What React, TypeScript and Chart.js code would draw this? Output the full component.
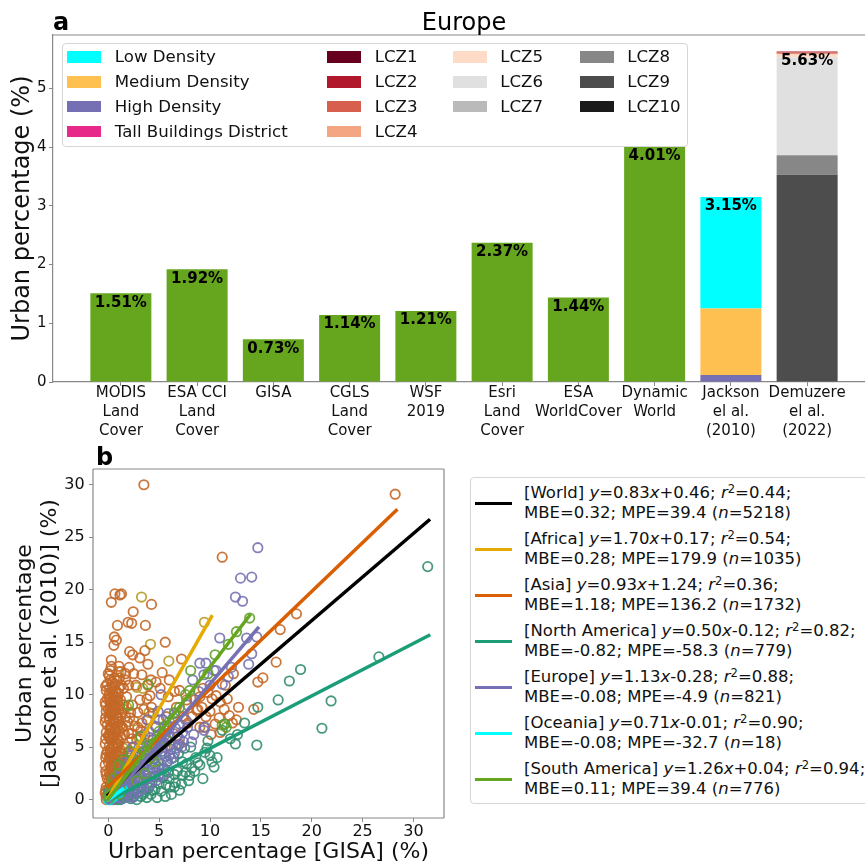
import React, { useEffect, useRef } from 'react';
import { Chart, registerables } from 'chart.js';

Chart.register(...registerables);

const FONT = '"DejaVu Sans", "Liberation Sans", sans-serif';
Chart.defaults.font.family = FONT;
Chart.defaults.color = '#111';

// ---------------- Panel a: Europe urban percentage ----------------
const productNames: string[][] = [
  ['MODIS', 'Land', 'Cover'],
  ['ESA CCI', 'Land', 'Cover'],
  ['GISA'],
  ['CGLS', 'Land', 'Cover'],
  ['WSF', '2019'],
  ['Esri', 'Land', 'Cover'],
  ['ESA', 'WorldCover'],
  ['Dynamic', 'World'],
  ['Jackson', 'el al.', '(2010)'],
  ['Demuzere', 'el al.', '(2022)'],
];
const productValues = [1.51, 1.92, 0.73, 1.14, 1.21, 2.37, 1.44, 4.01];
const jacksonClasses = ['Low Density', 'Medium Density', 'High Density', 'Tall Buildings District'];
const jacksonValues = [1.9, 1.13, 0.12, 0.0];
const lczClasses = ['LCZ1', 'LCZ2', 'LCZ3', 'LCZ4', 'LCZ5', 'LCZ6', 'LCZ7', 'LCZ8', 'LCZ9', 'LCZ10'];
const lczValues = [0.0, 0.02, 0.02, 0.01, 0.05, 1.67, 0.0, 0.33, 3.53, 0.0];
const yTicksA = [0, 1, 2, 3, 4, 5];

const productColor = '#66a61e';
const jacksonColors = ['#00ffff', '#fec151', '#7570b3', '#e7298a'];
const jacksonStackOrder = [2, 1, 0, 3];
const lczColors = ['#67001f', '#b2182b', '#d6604d', '#f4a582', '#fddbc7', '#e0e0e0', '#bababa', '#878787', '#4d4d4d', '#1a1a1a'];

// ---------------- Panel b: GISA vs Jackson ----------------
const regionNames = ['World', 'Africa', 'Asia', 'North America', 'Europe', 'Oceania', 'South America'];
const slopes = [0.83, 1.7, 0.93, 0.5, 1.13, 0.71, 1.26];
const intercepts = [0.46, 0.17, 1.24, -0.12, -0.28, -0.01, 0.04];
const r2Values = [0.44, 0.54, 0.36, 0.82, 0.88, 0.9, 0.94];
const mbeValues = [0.32, 0.28, 1.18, -0.82, -0.08, -0.08, 0.11];
const mpeValues = [39.4, 179.9, 136.2, -58.3, -4.9, -32.7, 39.4];
const nValues = [5218, 1035, 1732, 779, 821, 18, 776];
const lineXStart = [0, 0, 0, 0, 0, 0, 0];
const lineXEnd = [31.5, 10.15, 28.3, 31.5, 14.7, 1.4, 13.9];
const xTicksB = [0, 5, 10, 15, 20, 25, 30];
const yTicksB = [0, 5, 10, 15, 20, 25, 30];

const lineColors = ['#000000', '#e6ab02', '#d95f02', '#1b9e77', '#7570b3', '#00ffff', '#66a61e'];
const markerColors: Record<string, string> = {
  Africa: 'rgba(182,155,40,0.9)',
  Asia: 'rgba(196,104,40,0.9)',
  'North America': 'rgba(50,142,112,0.9)',
  Europe: 'rgba(118,114,178,0.9)',
  Oceania: 'rgba(0,230,230,0.9)',
  'South America': 'rgba(98,160,45,0.9)',
};

const africaPoints: number[][] = [
  [3.27, 19.3], [4.15, 14.8], [5.95, 13.2], [9.45, 16.9], [3.4, 10.6], [1.14, 4.2], [1.8, 8.8],
  [0.1, 0.3], [0.3, 0.8], [0.5, 1.5], [0.2, 2.2], [0.8, 2.8], [1.1, 1.9], [0.4, 3.5], [1.5, 3.0],
  [0.9, 5.2], [0.2, 6.0], [1.3, 6.8], [2.0, 4.6], [2.5, 7.5], [0.6, 0.1], [1.7, 1.1], [2.3, 2.0],
  [0.0, 1.0], [3.0, 5.9], [0.7, 9.5], [4.0, 8.3], [2.8, 10.7], [1.0, 12.2], [0.4, 0.5], [0.9, 0.2], [2.0, 0.4],
  [0.2, 1.2], [0.5, 2.6], [0.7, 3.8], [0.3, 4.8], [0.6, 6.8], [0.9, 7.8], [1.2, 3.3], [1.5, 4.9], [0.1, 0.6],
];
const asiaPoints: number[][] = [
  [3.5, 30.0], [28.2, 29.1], [11.2, 23.1], [18.5, 17.7], [16.9, 16.2], [16.5, 13.1], [15.2, 11.6], [14.7, 11.2],
  [14.3, 8.6], [12.3, 12.0], [0.3, 18.8], [0.65, 19.6], [1.3, 19.6], [1.15, 19.5], [4.25, 18.6], [2.45, 17.9],
  [1.95, 16.9], [2.3, 16.8], [0.9, 16.6], [3.65, 16.6], [0.6, 15.5], [0.8, 15.2], [0.55, 14.7], [5.6, 15.0],
  [2.1, 14.1], [2.4, 13.8], [3.1, 13.5], [3.6, 14.2], [7.2, 13.4], [0.3, 13.3], [0.3, 12.7], [1.05, 12.7],
  [2.05, 12.6], [1.7, 12.0], [1.1, 11.6], [0.2, 11.4], [4.2, 11.4], [7.0, 10.4], [6.5, 10.3], [3.8, 9.6],
  [9.3, 10.6], [9.8, 10.2], [10.2, 9.6], [10.6, 9.9], [11.0, 9.3], [11.4, 8.6], [11.9, 8.0], [12.2, 7.3],
  [10.0, 8.4], [10.5, 7.2], [9.6, 7.9], [9.2, 8.8], [11.7, 9.6], [12.6, 7.6], [10.9, 7.8], [9.4, 6.9],
  [10.1, 6.2], [11.0, 6.4], [9.0, 9.8], [8.8, 8.6], [12.8, 8.8], [11.5, 10.9],
  [4.7, 11.2], [5.1, 10.6], [5.9, 9.8], [4.25, 8.8], [3.1, 9.5], [4.4, 8.2], [5.7, 7.9], [6.7, 8.8],
  [7.7, 9.5], [8.7, 8.5], [3.8, 7.6], [4.7, 6.9], [6.4, 6.3], [9.0, 6.9], [8.2, 7.9], [2.9, 6.9],
  [2.3, 6.3], [2.8, 5.7], [3.4, 5.0], [4.4, 5.7], [5.6, 5.0], [7.0, 5.3], [7.4, 7.9], [7.85, 7.3],
  [6.1, 6.0], [8.5, 9.5], [3.3, 11.9], [2.7, 10.9], [5.3, 12.1], [6.0, 11.4],
  [-0.2, 0.3], [0.0, 0.9], [0.2, 1.5], [-0.1, 2.0], [0.1, 2.6], [0.3, 3.1], [0.0, 3.6], [0.2, 4.1],
  [-0.1, 4.6], [0.1, 5.1], [0.3, 5.6], [0.0, 6.1], [0.2, 6.6], [-0.1, 7.1], [0.1, 7.6], [0.3, 8.1],
  [0.0, 8.6], [0.2, 9.1], [-0.1, 9.6], [0.1, 10.1], [0.5, 0.6], [0.6, 1.2], [0.7, 1.9], [0.5, 2.4],
  [0.8, 3.0], [0.6, 3.7], [0.7, 4.3], [0.5, 4.9], [0.8, 5.4], [0.6, 6.0], [0.7, 6.7], [0.5, 7.3],
  [0.8, 7.9], [0.6, 8.5], [0.7, 9.1], [0.5, 9.7], [0.8, 10.3], [0.4, 10.8], [1.0, 0.9], [1.1, 1.6],
  [1.2, 2.3], [1.0, 2.9], [1.3, 3.5], [1.1, 4.1], [1.2, 4.7], [1.0, 5.3], [1.3, 5.9], [1.1, 6.5],
  [1.2, 7.1], [1.0, 7.7], [1.3, 8.3], [1.1, 8.9], [1.2, 9.5], [1.0, 10.1], [1.6, 1.3], [1.7, 2.6],
  [1.5, 3.9], [1.8, 5.0], [1.6, 6.2], [1.9, 7.4], [1.5, 8.6], [1.8, 9.8], [2.1, 1.9], [2.2, 3.3],
  [2.0, 4.5], [2.3, 5.8], [2.1, 7.8], [2.4, 9.0], [2.6, 2.6], [2.7, 4.1], [0.2, 0.1], [0.9, 0.3],
  [1.4, 0.5], [0.4, 11.2], [0.0, 12.0], [1.5, 10.6], [2.0, 10.9], [0.9, 11.3], [3.0, 3.2], [2.9, 8.3],
  [3.3, 7.3], [3.6, 6.2], [1.7, 11.4],
  [-0.3, 0.6], [-0.2, 1.2], [0.1, 1.8], [-0.2, 2.4], [0.2, 2.9], [-0.3, 3.3], [0.1, 3.9], [-0.2, 4.3],
  [0.2, 4.8], [-0.3, 5.3], [0.1, 5.9], [-0.2, 6.4], [0.2, 6.9], [-0.3, 7.4], [0.1, 7.9], [-0.2, 8.4],
  [0.2, 8.8], [-0.3, 9.3], [0.1, 9.8], [-0.2, 10.4], [0.4, 0.3], [0.4, 1.0], [0.3, 1.7], [0.4, 2.2],
  [0.5, 2.8], [0.3, 3.4], [0.4, 3.9], [0.3, 4.5], [0.5, 5.2], [0.3, 5.8], [0.4, 6.3], [0.3, 6.9],
  [0.5, 7.5], [0.3, 8.3], [0.4, 8.9], [0.3, 9.4], [0.5, 10.0], [0.9, 0.6], [0.9, 1.5], [0.8, 2.2],
  [0.9, 3.4], [0.8, 4.6], [0.9, 5.8], [0.8, 6.4], [0.9, 7.0], [0.8, 8.2], [0.9, 9.4], [1.4, 2.0],
  [1.4, 4.4], [1.4, 6.9], [1.4, 9.0], [1.7, 3.4], [1.7, 7.9], [2.0, 6.3], [-0.1, 11.0], [0.6, 11.6],
  [0.2, 12.3], [-0.2, 0.0], [0.6, 0.0], [1.2, 0.2],
  [-0.25, 0.9], [0.15, 0.6], [0.45, 1.4], [0.75, 0.9], [1.05, 1.3], [-0.25, 2.7], [0.15, 2.3], [0.45, 3.2],
  [0.75, 2.6], [1.05, 3.8], [-0.25, 4.0], [0.15, 4.4], [0.45, 4.2], [0.75, 5.0], [1.05, 5.6], [-0.25, 5.8],
  [0.15, 6.3], [0.45, 6.0], [0.75, 7.3], [1.05, 7.4], [-0.25, 7.8], [0.15, 8.3], [0.45, 8.0], [0.75, 8.8],
  [1.05, 8.6], [-0.25, 9.0], [0.15, 9.5], [0.45, 9.2], [0.75, 9.8], [1.05, 10.6], [-0.25, 10.8], [0.15, 10.6],
  [0.45, 10.3], [0.65, 11.0], [1.3, 10.9], [1.25, 12.2], [0.1, 11.8], [2.5, 12.0], [3.9, 12.9], [2.2, 8.3],
  [2.6, 7.0], [3.2, 6.6], [3.5, 8.6], [4.1, 9.9], [2.5, 5.0], [3.0, 4.6], [1.9, 4.0], [2.4, 1.5],
  [1.8, 0.8], [3.9, 10.9],
];
const northAmericaPoints: number[][] = [
  [31.4, 22.2], [26.6, 13.6], [21.0, 6.8], [21.9, 9.4], [18.9, 12.4], [17.8, 11.3], [16.7, 9.5], [14.6, 5.2],
  [14.7, 8.8], [12.5, 5.3], [12.7, 6.2], [11.45, 7.2], [10.7, 4.0], [10.4, 3.1], [9.3, 2.0], [9.5, 4.5],
  [10.2, 3.6], [8.5, 2.7], [7.3, 2.3], [6.5, 1.2], [6.05, 1.2], [7.7, 3.4], [8.6, 4.0], [9.0, 3.3],
  [10.0, 4.2], [7.9, 1.8], [6.8, 2.7], [6.0, 2.0], [5.5, 3.0], [5.0, 1.5], [4.5, 2.2], [4.0, 1.1],
  [3.5, 1.8], [3.0, 0.8], [2.5, 1.3], [2.0, 0.6], [1.5, 0.9], [1.0, 0.3], [0.5, 0.1], [0.2, 0.0],
  [1.2, 0.0], [2.2, 0.1], [3.2, 0.3], [4.2, 0.5], [5.2, 0.8], [6.2, 0.5], [7.0, 0.9], [2.8, 0.0],
  [3.8, 0.2], [4.8, 0.2], [5.6, 0.3], [0.8, 0.7], [1.8, 1.3], [2.9, 1.9], [3.9, 2.6], [4.9, 3.1],
  [5.8, 3.6], [6.4, 4.0], [6.9, 4.4], [7.5, 4.9], [5.3, 4.6], [4.4, 3.9], [3.4, 3.2], [2.3, 2.4],
  [1.4, 1.7], [12.0, 5.8], [11.2, 6.6], [13.4, 7.3], [8.1, 5.0], [9.8, 5.6], [0.0, 0.4], [0.6, 1.4],
  [1.6, 2.6], [2.6, 3.3], [3.6, 4.2],
  [0.3, 0.3], [0.7, 0.2], [1.3, 0.5], [1.9, 0.3], [2.4, 0.6], [3.3, 1.2], [4.3, 1.6], [5.4, 2.1],
  [6.6, 1.6], [7.6, 2.6], [8.2, 3.0], [0.1, 0.8], [0.9, 1.1], [1.7, 1.9],
  [0.4, 0.6], [1.1, 0.8], [1.7, 0.6], [2.6, 0.9], [3.6, 0.7], [4.6, 1.0], [5.7, 1.4], [6.5, 2.4],
  [7.2, 1.5], [8.0, 2.3], [0.9, 0.0], [1.6, 0.2], [2.5, 0.3], [3.4, 0.5], [4.4, 0.9], [5.0, 2.4],
  [5.9, 2.6], [7.3, 3.6], [8.8, 3.5], [9.7, 4.9],
];
const europePoints: number[][] = [
  [14.7, 24.0], [13.0, 21.1], [14.1, 21.2], [12.5, 19.3], [13.2, 18.9], [10.96, 15.4], [13.6, 15.4], [14.6, 15.5],
  [14.1, 13.9], [13.8, 12.9], [9.6, 13.0], [9.0, 13.0], [10.4, 12.3], [8.3, 11.4], [9.4, 11.9], [11.8, 11.7],
  [10.6, 12.3], [5.2, 10.0], [8.2, 5.5], [9.4, 6.6], [9.5, 6.9], [5.4, 7.6], [7.4, 5.5], [6.5, 8.2],
  [7.8, 9.0], [8.9, 10.3], [11.2, 11.0], [12.1, 12.6], [10.0, 10.9], [7.0, 7.2], [6.0, 6.8], [6.8, 6.0],
  [0.2, 0.1], [0.5, 0.3], [1.0, 0.6], [1.5, 1.2], [2.0, 1.5], [2.5, 2.2], [3.0, 2.6], [3.5, 3.1],
  [4.0, 3.8], [4.5, 4.3], [5.0, 4.9], [5.5, 5.4], [6.0, 5.9], [1.2, 1.8], [1.8, 2.4], [2.3, 3.0],
  [2.8, 3.6], [3.3, 4.2], [3.8, 4.7], [4.3, 5.3], [4.8, 6.0], [5.3, 6.4], [5.8, 7.0], [1.0, 0.2],
  [1.8, 0.5], [2.6, 1.0], [3.4, 1.6], [4.2, 2.2], [5.0, 2.9], [5.8, 3.6], [6.5, 4.4], [2.1, 0.3],
  [3.0, 0.8], [3.9, 1.2], [4.7, 1.8], [5.5, 2.4], [0.6, 1.0], [1.3, 2.6], [2.0, 3.4], [2.7, 4.3],
  [3.4, 5.1], [4.1, 5.9], [4.6, 7.0], [3.2, 6.0], [2.4, 5.0], [0.8, 2.0], [0.3, 0.8], [1.6, 3.5],
  [6.2, 4.8], [6.9, 5.2], [7.3, 6.4], [5.6, 4.1], [4.4, 3.0], [3.6, 2.3], [2.9, 1.8], [0.4, 0.0],
  [1.4, 0.1], [2.4, 0.2], [5.9, 8.2], [4.9, 8.4], [3.9, 7.6], [7.6, 7.6],
  [1.0, 1.3], [1.5, 2.0], [2.0, 2.1], [2.5, 2.9], [3.1, 3.4], [3.6, 3.9], [4.1, 4.5], [4.6, 5.0],
  [5.1, 5.6], [5.6, 6.2], [2.2, 1.1], [2.9, 1.3], [3.7, 2.0], [4.5, 2.6], [5.2, 3.4], [6.0, 4.2],
  [1.7, 1.0], [0.9, 0.9], [3.0, 4.9], [4.0, 6.5], [5.0, 7.6], [6.6, 6.8], [7.0, 5.8], [7.8, 6.9],
  [8.4, 6.2], [2.2, 4.2], [1.1, 2.2], [6.4, 7.8],
  [1.2, 0.9], [1.6, 1.6], [2.3, 1.8], [2.7, 2.6], [3.2, 2.9], [3.7, 3.5], [4.2, 4.0], [4.7, 4.6],
  [5.2, 5.2], [5.7, 5.8], [2.5, 0.6], [3.3, 1.0], [4.0, 1.6], [4.9, 2.2], [5.4, 3.0], [6.2, 3.9],
  [6.7, 4.9], [7.2, 5.0], [3.1, 2.1], [3.9, 2.8], [4.6, 3.4], [5.3, 4.4], [6.0, 5.2], [2.0, 2.8],
  [2.6, 3.4], [3.5, 4.6], [4.3, 4.9], [5.0, 5.6], [1.4, 2.2], [0.7, 0.5],
];
const oceaniaPoints: number[][] = [
  [0.1, 0.0], [0.3, 0.2], [0.5, 0.3], [0.7, 0.5], [0.9, 0.6], [1.1, 0.7], [1.3, 0.9], [0.2, 0.1], [0.4, 0.3],
  [0.6, 0.4], [0.8, 0.6], [1.0, 0.7], [1.2, 0.8], [1.4, 1.0], [0.0, 0.0], [0.15, 0.1], [0.25, 0.2], [0.35, 0.2],
];
const southAmericaPoints: number[][] = [
  [13.9, 17.3], [11.8, 14.8], [8.1, 12.3], [8.0, 10.4], [11.45, 7.2], [0.1, 0.1], [0.4, 0.6], [0.8, 1.1],
  [1.2, 1.4], [1.6, 2.2], [2.0, 2.4], [2.5, 3.3], [3.0, 3.6], [3.5, 4.5], [4.0, 5.2], [4.5, 5.4],
  [5.0, 6.5], [5.5, 7.0], [6.0, 7.4], [6.5, 8.3], [7.0, 8.8], [1.0, 2.5], [1.5, 3.8], [2.2, 4.6],
  [0.5, 2.0], [3.2, 6.0], [2.8, 1.8], [3.6, 2.5], [4.6, 3.6], [0.2, 0.9], [0.0, 0.3], [1.1, 0.5],
  [9.8, 12.0], [10.5, 13.8], [12.6, 16.0], [7.6, 10.0], [5.8, 5.6], [4.2, 4.0], [11.2, 7.1], [11.6, 6.9],
  [3.9, 11.0], [2.0, 9.0],
  [0.3, 0.4], [0.6, 0.8], [0.9, 1.6], [1.3, 2.0], [1.8, 2.9], [2.4, 3.8], [2.9, 4.3], [3.3, 4.9],
  [1.0, 3.3], [0.4, 1.4],
];
const scatterRegions: [string, number[][]][] = [
  ['Africa', africaPoints],
  ['Asia', asiaPoints],
  ['North America', northAmericaPoints],
  ['Europe', europePoints],
  ['Oceania', oceaniaPoints],
  ['South America', southAmericaPoints],
];

const sum = (a: number[]) => a.reduce((s, v) => s + v, 0);
const signed = (v: number) => (v < 0 ? '-' : '+') + Math.abs(v).toFixed(2);

function framePlugin(color: string, sides: string[]) {
  return {
    id: 'frame',
    afterDatasetsDraw(chart: any) {
      const { ctx, chartArea: a } = chart;
      ctx.save();
      ctx.strokeStyle = color;
      ctx.lineWidth = 1.2;
      ctx.beginPath();
      if (sides.includes('top')) { ctx.moveTo(a.left, a.top); ctx.lineTo(a.right, a.top); }
      if (sides.includes('bottom')) { ctx.moveTo(a.left, a.bottom); ctx.lineTo(a.right, a.bottom); }
      if (sides.includes('left')) { ctx.moveTo(a.left, a.top); ctx.lineTo(a.left, a.bottom); }
      if (sides.includes('right')) { ctx.moveTo(a.right, a.top); ctx.lineTo(a.right, a.bottom); }
      ctx.stroke();
      ctx.restore();
    },
  };
}

function TopChart() {
  const ref = useRef<HTMLCanvasElement | null>(null);
  useEffect(() => {
    const datasets: any[] = [];
    datasets.push({ label: 'Products', data: productValues.map((v, i) => ({ x: i, y: v })), backgroundColor: productColor });
    jacksonStackOrder.forEach((k) => {
      datasets.push({ label: jacksonClasses[k], data: [{ x: 8, y: jacksonValues[k] }], backgroundColor: jacksonColors[k] });
    });
    for (let k = lczClasses.length - 1; k >= 0; k--) {
      datasets.push({ label: lczClasses[k], data: [{ x: 9, y: lczValues[k] }], backgroundColor: lczColors[k] });
    }
    const totals = [...productValues, sum(jacksonValues), sum(lczValues)];

    const labelPlugin = {
      id: 'barLabels',
      afterDatasetsDraw(chart: any) {
        const { ctx, scales } = chart;
        ctx.save();
        ctx.font = `bold 15px ${FONT}`;
        ctx.fillStyle = '#000';
        ctx.textAlign = 'center';
        ctx.textBaseline = 'top';
        totals.forEach((t, i) => {
          ctx.fillText(`${t.toFixed(2)}%`, scales.x.getPixelForValue(i), scales.y.getPixelForValue(t) + 2);
        });
        ctx.restore();
      },
    };
    const titlePlugin = {
      id: 'titles',
      afterDraw(chart: any) {
        const { ctx, chartArea: a } = chart;
        ctx.save();
        ctx.fillStyle = '#000';
        ctx.textBaseline = 'alphabetic';
        ctx.textAlign = 'center';
        ctx.font = `24px ${FONT}`;
        ctx.fillText('Europe', (a.left + a.right) / 2, 30);
        ctx.textAlign = 'left';
        ctx.font = `bold 24px ${FONT}`;
        ctx.fillText('a', 53, 30);
        ctx.restore();
      },
    };

    const chart = new Chart(ref.current as HTMLCanvasElement, {
      type: 'bar',
      data: { datasets },
      options: {
        animation: false,
        responsive: false,
        devicePixelRatio: 1,
        layout: { padding: { left: 0, top: 35, right: 5, bottom: 0 } },
        plugins: { legend: { display: false }, tooltip: { enabled: false } },
        datasets: { bar: { categoryPercentage: 1, barPercentage: 0.8, borderWidth: 0 } },
        scales: {
          x: {
            type: 'linear',
            offset: false,
            min: -0.89,
            max: 9.89,
            stacked: true,
            afterBuildTicks: (s: any) => { s.ticks = productNames.map((_, i) => ({ value: i })); },
            afterFit: (s: any) => { s.height = 58; },
            grid: { display: true, offset: false, drawOnChartArea: false, drawTicks: true, tickLength: 4, color: '#888', tickColor: '#888' },
            border: { display: true, color: '#888', width: 1.2 },
            ticks: {
              callback: (v: any) => productNames[v] ?? '',
              font: { family: FONT, size: 15, lineHeight: 1.267 },
              color: '#111',
              padding: -2,
              maxRotation: 0,
              autoSkip: false,
            },
          },
          y: {
            min: 0,
            max: 5.91,
            stacked: true,
            afterBuildTicks: (s: any) => { s.ticks = yTicksA.map((v) => ({ value: v })); },
            afterFit: (s: any) => { s.width = 53; },
            grid: { display: true, drawOnChartArea: false, drawTicks: true, tickLength: 4, color: '#888', tickColor: '#888' },
            border: { display: true, color: '#888', width: 1.2 },
            ticks: { font: { family: FONT, size: 15 }, color: '#111', padding: 2.5 },
            title: {
              display: true,
              text: 'Urban percentage (%)',
              font: { family: FONT, size: 24, lineHeight: 1.2 },
              color: '#111',
              padding: { top: 8.6, bottom: 0 },
            },
          },
        },
      } as any,
      plugins: [framePlugin('#888', ['top', 'right']), labelPlugin, titlePlugin],
    });
    return () => chart.destroy();
  }, []);
  return <canvas ref={ref} width={880} height={440} style={{ display: 'block' }} />;
}

function BottomChart() {
  const ref = useRef<HTMLCanvasElement | null>(null);
  useEffect(() => {
    const datasets: any[] = [];
    scatterRegions.forEach(([name, pts], k) => {
      datasets.push({
        label: name,
        data: pts.map(([x, y]) => ({ x, y })),
        showLine: false,
        pointRadius: 4.7,
        pointBorderWidth: 1.8,
        pointBackgroundColor: 'rgba(0,0,0,0)',
        pointBorderColor: markerColors[name],
        order: 100 - k,
      });
    });
    regionNames.forEach((name, j) => {
      const x0 = lineXStart[j];
      const x1 = lineXEnd[j];
      datasets.push({
        label: `${name} fit`,
        data: [
          { x: x0, y: slopes[j] * x0 + intercepts[j] },
          { x: x1, y: slopes[j] * x1 + intercepts[j] },
        ],
        showLine: true,
        pointRadius: 0,
        borderColor: lineColors[j],
        borderWidth: 3.5,
        borderCapStyle: 'square',
        order: 50 - j,
      });
    });
    const labelPlugin = {
      id: 'panelB',
      afterDraw(chart: any) {
        const { ctx } = chart;
        ctx.save();
        ctx.fillStyle = '#000';
        ctx.textAlign = 'left';
        ctx.textBaseline = 'alphabetic';
        ctx.font = `bold 24px ${FONT}`;
        ctx.fillText('b', 96, 25);
        ctx.restore();
      },
    };
    const chart = new Chart(ref.current as HTMLCanvasElement, {
      type: 'scatter',
      data: { datasets },
      options: {
        animation: false,
        responsive: false,
        devicePixelRatio: 1,
        layout: { padding: { left: 0, top: 29, right: 16, bottom: 0 } },
        plugins: { legend: { display: false }, tooltip: { enabled: false } },
        scales: {
          x: {
            type: 'linear',
            min: -1.5,
            max: 33,
            afterBuildTicks: (s: any) => { s.ticks = xTicksB.map((v) => ({ value: v })); },
            afterFit: (s: any) => { s.height = 48; },
            grid: { display: true, drawOnChartArea: false, drawTicks: true, tickLength: 4, color: '#888', tickColor: '#888' },
            border: { display: false },
            ticks: { font: { family: FONT, size: 16 }, color: '#111', padding: 0.7, maxRotation: 0 },
            title: {
              display: true,
              text: 'Urban percentage [GISA] (%)',
              font: { family: FONT, size: 22, lineHeight: 1.15 },
              color: '#111',
              padding: { top: 0, bottom: 1.35 },
            },
          },
          y: {
            type: 'linear',
            min: -1.75,
            max: 31.5,
            afterBuildTicks: (s: any) => { s.ticks = yTicksB.map((v) => ({ value: v })); },
            afterFit: (s: any) => { s.width = 93; },
            grid: { display: true, drawOnChartArea: false, drawTicks: true, tickLength: 4, color: '#888', tickColor: '#888' },
            border: { display: false },
            ticks: { font: { family: FONT, size: 16 }, color: '#111', padding: 4.3 },
            title: {
              display: true,
              text: ['Urban percentage', '[Jackson et al. (2010)] (%)'],
              font: { family: FONT, size: 22, lineHeight: 25 / 22 },
              color: '#111',
              padding: { top: 13, bottom: 0 },
            },
          },
        },
      } as any,
      plugins: [framePlugin('#888', ['top', 'bottom', 'left', 'right']), labelPlugin],
    });
    return () => chart.destroy();
  }, []);
  return <canvas ref={ref} width={460} height={426} style={{ display: 'block' }} />;
}

function TopLegend() {
  const items = [
    ...jacksonClasses.map((c, i) => ({ label: c, color: jacksonColors[i] })),
    ...lczClasses.map((c, i) => ({ label: c, color: lczColors[i] })),
  ];
  const columnSizes = [4, 4, 3, 3];
  const columnWidths = [260, 125.5, 127, undefined];
  const columns: { label: string; color: string }[][] = [];
  let start = 0;
  columnSizes.forEach((n) => { columns.push(items.slice(start, start + n)); start += n; });
  return (
    <div
      style={{
        position: 'absolute', left: 62, top: 43, height: 104, boxSizing: 'border-box',
        border: '1px solid #d6d6d6', borderRadius: 4, background: 'rgba(255,255,255,0.85)',
        padding: '0.6px 6px 1.6px 4.4px', display: 'flex',
        fontFamily: FONT, fontSize: 16.6, color: '#111', whiteSpace: 'nowrap',
      }}
    >
      {columns.map((col, ci) => (
        <div key={ci} style={{ width: columnWidths[ci], flex: 'none' }}>
          {col.map((it) => (
            <div key={it.label} style={{ display: 'flex', alignItems: 'center', height: 24.8 }}>
              <span style={{ display: 'inline-block', width: 34, height: 11.7, background: it.color, marginRight: 13.4 }} />
              <span>{it.label}</span>
            </div>
          ))}
        </div>
      ))}
    </div>
  );
}

function BottomLegend() {
  const sup: React.CSSProperties = { fontSize: '0.7em', position: 'relative', top: '-0.5em', lineHeight: 0 };
  return (
    <div
      style={{
        position: 'absolute', left: 470, top: 477, width: 420, height: 327, boxSizing: 'border-box',
        border: '1px solid #d6d6d6', borderRadius: 4, background: '#fff',
        padding: '5.3px 0 0 4px', fontFamily: FONT, fontSize: 16.5, color: '#111', whiteSpace: 'nowrap',
      }}
    >
      {regionNames.map((name, j) => (
        <div key={name} style={{ display: 'flex', alignItems: 'center', height: 40, marginBottom: 6 }}>
          <span style={{ display: 'inline-block', width: 37, height: 3.5, background: lineColors[j], marginRight: 12 }} />
          <div style={{ lineHeight: '20px' }}>
            <div>
              [{name}] <i>y</i>={slopes[j].toFixed(2)}<i>x</i>{signed(intercepts[j])}; <i>r</i>
              <span style={sup}>2</span>={r2Values[j].toFixed(2)};
            </div>
            <div>
              MBE={mbeValues[j].toFixed(2)}; MPE={mpeValues[j].toFixed(1)} (<i>n</i>={nValues[j]})
            </div>
          </div>
        </div>
      ))}
    </div>
  );
}

export default function App() {
  return (
    <div
      style={{
        position: 'fixed', left: 0, top: 0, width: 865, height: 866, overflow: 'hidden',
        background: '#fff', fontFamily: FONT,
      }}
    >
      <div style={{ position: 'absolute', left: 0, top: 0 }}>
        <TopChart />
      </div>
      <div style={{ position: 'absolute', left: 0, top: 440 }}>
        <BottomChart />
      </div>
      <TopLegend />
      <BottomLegend />
    </div>
  );
}
